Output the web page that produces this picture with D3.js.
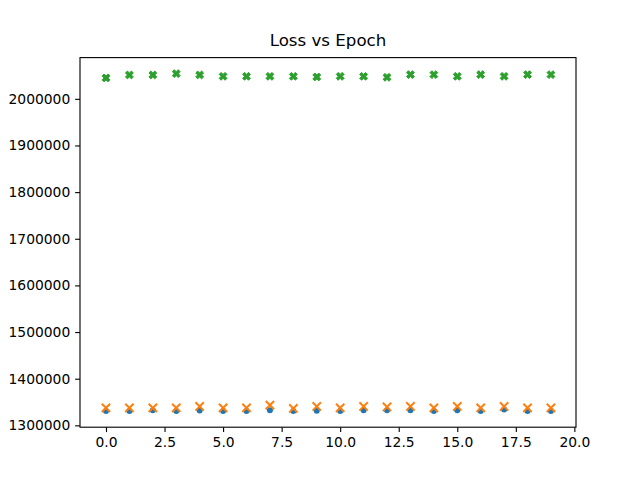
<!DOCTYPE html>
<html>
<head>
<meta charset="utf-8">
<script src="https://cdn.jsdelivr.net/npm/d3@7"></script>
<style>
  html, body { margin: 0; padding: 0; background: #fff; }
  svg { display: block; font-family: "DejaVu Sans", sans-serif; }
</style>
</head>
<body>
<svg id="chart" width="640" height="480"></svg>
<script>
const epochs = [0,1,2,3,4,5,6,7,8,9,10,11,12,13,14,15,16,17,18,19];
const seriesBlue = [1331000,1331000,1332500,1331000,1332000,1331000,1331000,1332500,1331000,1331500,
                    1331000,1332500,1332500,1332500,1331000,1332500,1331000,1334000,1331000,1331000];
const seriesOrange = [1337500,1337500,1337500,1337500,1340500,1337500,1337500,1343300,1336200,1340500,
                      1337500,1340500,1339500,1340500,1337500,1340500,1337500,1340500,1337500,1337500];
const seriesGreen = [2044800,2051200,2051200,2054000,2051200,2048200,2048200,2048200,2048200,2046900,
                     2048200,2048200,2046100,2051900,2051900,2048200,2051900,2048200,2051900,2051900];
const xTicks = [0,2.5,5,7.5,10,12.5,15,17.5,20];
const yTicks = [1300000,1400000,1500000,1600000,1700000,1800000,1900000,2000000];
const title = "Loss vs Epoch";

const svg = d3.select("#chart");
const L = 80, R = 576, T = 57.6, B = 427.2;
const pt = 100 / 72;

const x = d3.scaleLinear().domain([-1.11, 20.07]).range([L, R]);
const y = d3.scaleLinear().domain([1296030, 2088380]).range([B, T]);

// axes
const xAxis = d3.axisBottom(x).tickValues(xTicks).tickFormat(d3.format(".1f"))
  .tickSize(3.5 * pt).tickPadding(3.5 * pt);
const yAxis = d3.axisLeft(y).tickValues(yTicks).tickFormat(d3.format("d"))
  .tickSize(3.5 * pt).tickPadding(3.5 * pt);

const gx = svg.append("g").attr("transform", `translate(0,${B})`).call(xAxis);
const gy = svg.append("g").attr("transform", `translate(${L},0)`).call(yAxis);
[gx, gy].forEach(g => {
  g.select(".domain").remove();
  g.selectAll(".tick line").attr("stroke", "#000").attr("stroke-width", 0.8 * pt);
  g.selectAll(".tick text").attr("fill", "#000").style("font-size", (10 * pt) + "px")
    .style("font-family", "DejaVu Sans, sans-serif");
});

// markers
const pts = epochs.map((e, i) => ({e, b: seriesBlue[i], o: seriesOrange[i], g: seriesGreen[i]}));

svg.append("g").selectAll("circle").data(pts).join("circle")
  .attr("cx", d => x(d.e)).attr("cy", d => y(d.b)).attr("r", 3)
  .attr("fill", "#1f77b4");

const hs = 4.17;
svg.append("g").selectAll("path").data(pts).join("path")
  .attr("d", d => {
    const cx = x(d.e), cy = y(d.o);
    return `M${cx-hs},${cy-hs}L${cx+hs},${cy+hs}M${cx-hs},${cy+hs}L${cx+hs},${cy-hs}`;
  })
  .attr("stroke", "#ff7f0e").attr("stroke-width", 2.0).attr("fill", "none");

const s = 8.33 / 6;
const plus = [[-1,-3],[1,-3],[1,-1],[3,-1],[3,1],[1,1],[1,3],[-1,3],[-1,1],[-3,1],[-3,-1],[-1,-1]];
const c = Math.SQRT1_2;
const xShape = plus.map(([a, b]) => [(a*c - b*c)*s, (a*c + b*c)*s]);
svg.append("g").selectAll("path").data(pts).join("path")
  .attr("d", d => {
    const cx = x(d.e), cy = y(d.g);
    return "M" + xShape.map(p => `${cx+p[0]},${cy+p[1]}`).join("L") + "Z";
  })
  .attr("fill", "#2ca02c").attr("stroke", "#2ca02c").attr("stroke-width", 1);

// frame
svg.append("rect").attr("x", L).attr("y", T).attr("width", R - L).attr("height", B - T)
  .attr("fill", "none").attr("stroke", "#000").attr("stroke-width", 0.8 * pt);

svg.append("text").attr("x", (L + R) / 2).attr("y", T - 6 * pt - 3)
  .attr("text-anchor", "middle").style("font-size", (12 * pt) + "px").attr("fill", "#000")
  .text(title);
</script>
</body>
</html>
